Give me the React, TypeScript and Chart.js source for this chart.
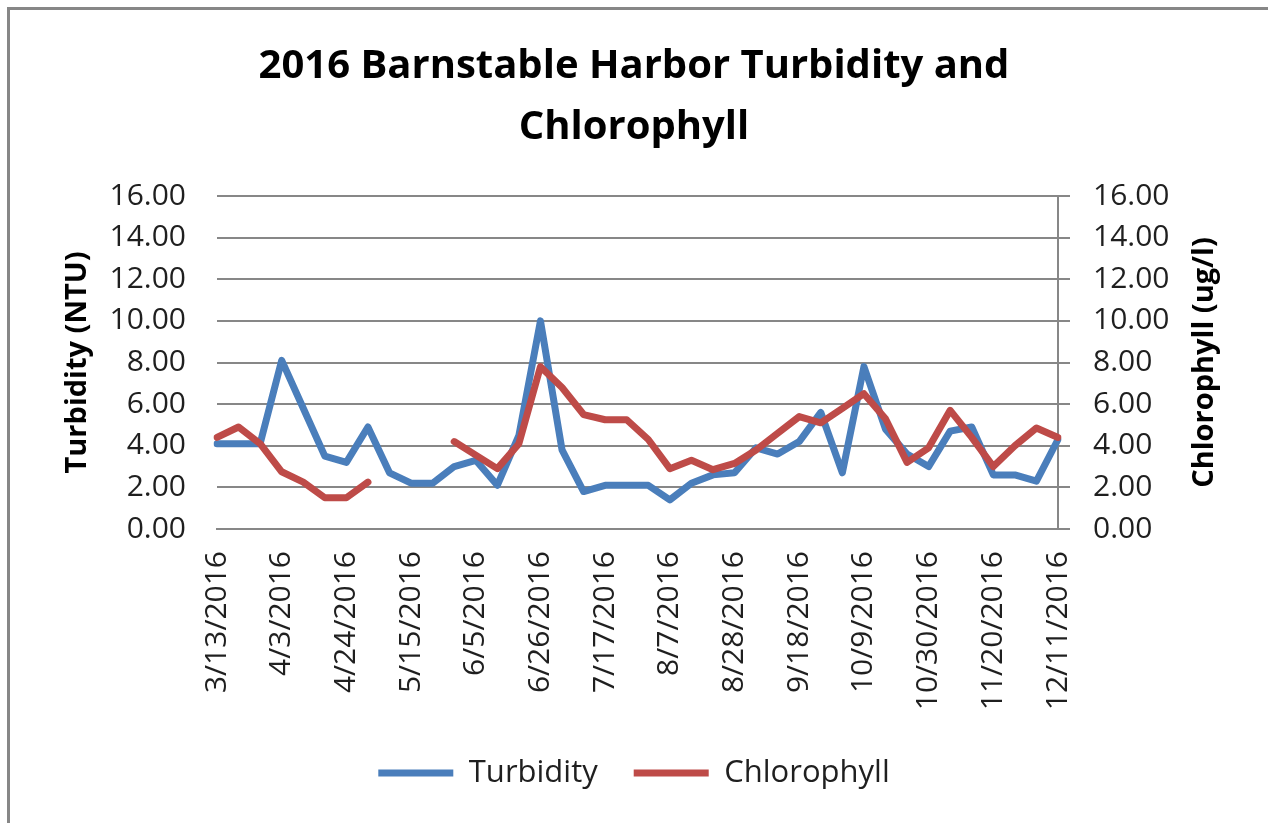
import React, { useEffect, useRef } from "react";
import { Chart, registerables } from "chart.js";

Chart.register(...registerables);

const dates = [
  "3/13/2016", "3/20/2016", "3/27/2016", "4/3/2016", "4/10/2016", "4/17/2016", "4/24/2016",
  "5/1/2016", "5/8/2016", "5/15/2016", "5/22/2016", "5/29/2016", "6/5/2016", "6/12/2016",
  "6/19/2016", "6/26/2016", "7/3/2016", "7/10/2016", "7/17/2016", "7/24/2016", "7/31/2016",
  "8/7/2016", "8/14/2016", "8/21/2016", "8/28/2016", "9/4/2016", "9/11/2016", "9/18/2016",
  "9/25/2016", "10/2/2016", "10/9/2016", "10/16/2016", "10/23/2016", "10/30/2016", "11/6/2016",
  "11/13/2016", "11/20/2016", "11/27/2016", "12/4/2016", "12/11/2016",
];

const turbidity = [
  4.1, 4.1, 4.1, 8.1, 5.8, 3.5, 3.2, 4.9, 2.7, 2.2,
  2.2, 3.0, 3.3, 2.1, 4.5, 10.0, 3.8, 1.8, 2.1, 2.1,
  2.1, 1.4, 2.2, 2.6, 2.7, 3.9, 3.6, 4.2, 5.6, 2.7,
  7.8, 4.8, 3.6, 3.0, 4.7, 4.9, 2.6, 2.6, 2.3, 4.3,
];

const chlorophyll: (number | null)[] = [
  4.4, 4.9, 4.1, 2.75, 2.25, 1.5, 1.5, 2.25, null, null,
  null, 4.2, 3.55, 2.9, 4.1, 7.8, 6.8, 5.5, 5.25, 5.25,
  4.3, 2.9, 3.3, 2.85, 3.15, 3.8, 4.6, 5.4, 5.1, 5.8,
  6.5, 5.3, 3.2, 3.9, 5.7, 4.4, 3.0, 4.0, 4.85, 4.4,
];

const titleLines = ["2016 Barnstable Harbor Turbidity and", "Chlorophyll"];
const leftAxisTitle = "Turbidity (NTU)";
const rightAxisTitle = "Chlorophyll (ug/l)";
const yMin = 0;
const yMax = 16;
const yStep = 2;
const labelEvery = 3;

const FONT = "'Open Sans', sans-serif";
const GRID = "#878787";
const TEXT = "#1f1f1f";

// Right-hand axis title, drawn reading bottom-to-top like the left one.
const rightTitlePlugin = {
  id: "rightAxisTitle",
  afterDraw(chart: any) {
    const s = chart.scales.y1;
    if (!s) return;
    const ctx = chart.ctx;
    const area = chart.chartArea;
    ctx.save();
    ctx.translate(s.right - 45.6 - 17.4, (area.top + area.bottom) / 2);
    ctx.rotate(-Math.PI / 2);
    ctx.font = "bold 29px " + FONT;
    ctx.textAlign = "center";
    ctx.textBaseline = "middle";
    ctx.fillStyle = "#000";
    ctx.fillText(rightAxisTitle, 0, 0);
    ctx.restore();
  },
};

export default function App() {
  const ref = useRef<HTMLCanvasElement>(null);

  useEffect(() => {
    if (!ref.current) return;
    const tickFont = { family: FONT, size: 30 };
    const axisTitleFont = { family: FONT, size: 29, weight: "bold" as const };
    const chart = new Chart(ref.current, {
      type: "line",
      data: {
        labels: dates,
        datasets: [
          {
            label: "Turbidity",
            data: turbidity,
            yAxisID: "y",
            borderColor: "#4A7EBB",
            backgroundColor: "#4A7EBB",
            borderWidth: 7,
            pointRadius: 0,
            pointHoverRadius: 0,
            borderJoinStyle: "round",
            borderCapStyle: "round",
            tension: 0,
            fill: false,
            order: 1,
          },
          {
            label: "Chlorophyll",
            data: chlorophyll,
            yAxisID: "y1",
            borderColor: "#BE4B48",
            backgroundColor: "#BE4B48",
            borderWidth: 7,
            pointRadius: 0,
            pointHoverRadius: 0,
            borderJoinStyle: "round",
            borderCapStyle: "round",
            tension: 0,
            fill: false,
            spanGaps: false,
            order: 0,
          },
        ],
      },
      options: {
        responsive: false,
        animation: false,
        devicePixelRatio: 1,
        layout: { padding: { top: 0, left: 0, right: 0, bottom: 24.5 } },
        plugins: {
          tooltip: { enabled: false },
          title: {
            display: true,
            text: titleLines,
            color: "#000",
            font: { family: FONT, size: 40, weight: "bold", lineHeight: "61px" },
            padding: { top: 36.5, bottom: 37.5 },
          },
          legend: {
            position: "bottom",
            labels: {
              usePointStyle: true,
              pointStyle: "line",
              pointStyleWidth: 75,
              padding: 36,
              color: TEXT,
              font: { family: FONT, size: 31 },
              sort: (a: any, b: any) => a.datasetIndex - b.datasetIndex,
            },
          },
        },
        scales: {
          x: {
            type: "category",
            offset: false,
            grid: { display: true, drawOnChartArea: false, drawTicks: false },
            border: { display: true, color: GRID, width: 2 },
            ticks: {
              autoSkip: false,
              minRotation: 90,
              maxRotation: 90,
              padding: 22,
              color: TEXT,
              font: tickFont,
              callback: function (this: any, val: any, idx: number) {
                return idx % labelEvery === 0 ? this.getLabelForValue(val) : "";
              },
            },
            afterFit: (s: any) => {
              s.height = 192.5;
            },
          },
          y: {
            position: "left",
            min: yMin,
            max: yMax,
            ticks: {
              stepSize: yStep,
              padding: 31,
              color: TEXT,
              font: tickFont,
              callback: (v: any) => Number(v).toFixed(2),
            },
            grid: { color: GRID, lineWidth: 2, drawTicks: false },
            border: { display: false },
            title: {
              display: true,
              text: leftAxisTitle,
              color: "#000",
              font: axisTitleFont,
              padding: { top: 60.6, bottom: 0 },
            },
            afterFit: (s: any) => {
              s.width = 217;
            },
          },
          y1: {
            position: "right",
            min: yMin,
            max: yMax,
            ticks: {
              stepSize: yStep,
              padding: 23,
              color: TEXT,
              font: tickFont,
              callback: (v: any) => Number(v).toFixed(2),
            },
            grid: {
              drawOnChartArea: false,
              drawTicks: true,
              tickLength: 12,
              color: GRID,
              lineWidth: 2,
            },
            border: { display: true, color: GRID, width: 2 },
            title: { display: false, text: rightAxisTitle },
            afterFit: (s: any) => {
              s.width = 210;
            },
          },
        },
      },
      plugins: [rightTitlePlugin],
    });
    return () => chart.destroy();
  }, []);

  return (
    <div
      style={{
        position: "fixed",
        left: 0,
        top: 0,
        width: 1268,
        height: 823,
        background: "#fff",
        overflow: "hidden",
      }}
    >
      <canvas
        ref={ref}
        width={1268}
        height={823}
        style={{ display: "block", width: 1268, height: 823 }}
      />
      <div
        style={{
          position: "absolute",
          left: 7,
          top: 7,
          width: 1300,
          height: 900,
          borderLeft: "3px solid #878787",
          borderTop: "3px solid #878787",
          pointerEvents: "none",
        }}
      />
    </div>
  );
}
